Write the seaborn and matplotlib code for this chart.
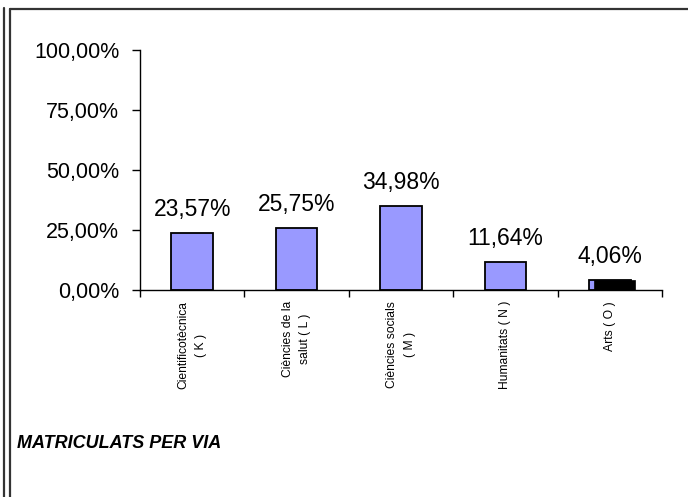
import matplotlib
matplotlib.use("Agg")
import matplotlib.pyplot as plt
from matplotlib.lines import Line2D
from matplotlib.ticker import FixedLocator
import seaborn as sns
import pandas as pd

categories = ["Cientificotècnica\n( K )", "Ciències de la\nsalut ( L )",
              "Ciències socials\n( M )", "Humanitats ( N )", "Arts ( O )"]
values = [23.57, 25.75, 34.98, 11.64, 4.06]
value_labels = ["23,57%", "25,75%", "34,98%", "11,64%", "4,06%"]
ytick_values = [0, 25, 50, 75, 100]
ytick_labels = ["0,00%", "25,00%", "50,00%", "75,00%", "100,00%"]
title = "MATRICULATS PER VIA"

sns.set_style("white")
plt.rcParams["font.family"] = ["Liberation Sans", "DejaVu Sans"]
plt.rcParams["text.color"] = "black"
plt.rcParams["xtick.color"] = "black"
plt.rcParams["ytick.color"] = "black"
plt.rcParams["xtick.labelcolor"] = "black"
plt.rcParams["ytick.labelcolor"] = "black"

W, H = 688, 497
fig = plt.figure(figsize=(W / 100, H / 100), dpi=100)
fig.patch.set_facecolor("white")
ax = fig.add_axes([140 / W, (H - 290) / H, (662 - 140) / W, 240 / H])

df = pd.DataFrame({"cat": categories, "val": values})
sns.barplot(data=df, x="cat", y="val", ax=ax, color="#9999FF",
            edgecolor="black", linewidth=1.3, width=0.4, saturation=1)

# Arts bar drawn in black, slightly offset, over the blue one
ax.bar(len(values) - 1 + 0.045, values[-1], width=0.4, color="black",
       edgecolor="black", linewidth=0.5, zorder=3)

ax.bar_label(ax.containers[0], labels=value_labels, padding=9, fontsize=16.5,
             color="black")

ax.set_ylim(0, 100)
ax.set_xlim(-0.5, len(values) - 0.5)
ax.set_yticks(ytick_values)
ax.set_yticklabels(ytick_labels, fontsize=15.5)
ax.tick_params(axis="y", direction="out", length=6, width=1, pad=9, left=True,
               color="black")
ax.set_xticks(range(len(categories)))
ax.set_xticklabels(categories, rotation=90, fontsize=8.7, ha="center",
                   va="top", multialignment="center", linespacing=1.6)
ax.tick_params(axis="x", which="major", length=0, pad=8)
ax.xaxis.set_minor_locator(FixedLocator([i - 0.5 for i in range(len(values) + 1)]))
ax.tick_params(axis="x", which="minor", direction="out", length=5, width=1,
               bottom=True, color="black")
ax.set_xlabel("")
ax.set_ylabel("")
for s in ["top", "right"]:
    ax.spines[s].set_visible(False)
for s in ["left", "bottom"]:
    ax.spines[s].set_color("black")
    ax.spines[s].set_linewidth(1)

fig.text(17 / W, 1 - 443 / H, title, fontsize=13, fontweight="bold",
         fontstyle="italic", va="center", ha="left", color="black")

# Frame lines
border = "#333333"
fig.add_artist(Line2D([3.5 / W, 3.5 / W], [0, 1 - 8 / H], color=border, lw=1.6))
fig.add_artist(Line2D([9.5 / W, 9.5 / W], [0, 1 - 8.5 / H], color=border, lw=1.6))
fig.add_artist(Line2D([9.5 / W, 1], [1 - 8.5 / H, 1 - 8.5 / H], color=border, lw=1.6))

fig.savefig("out.png", dpi=100, facecolor="white")
